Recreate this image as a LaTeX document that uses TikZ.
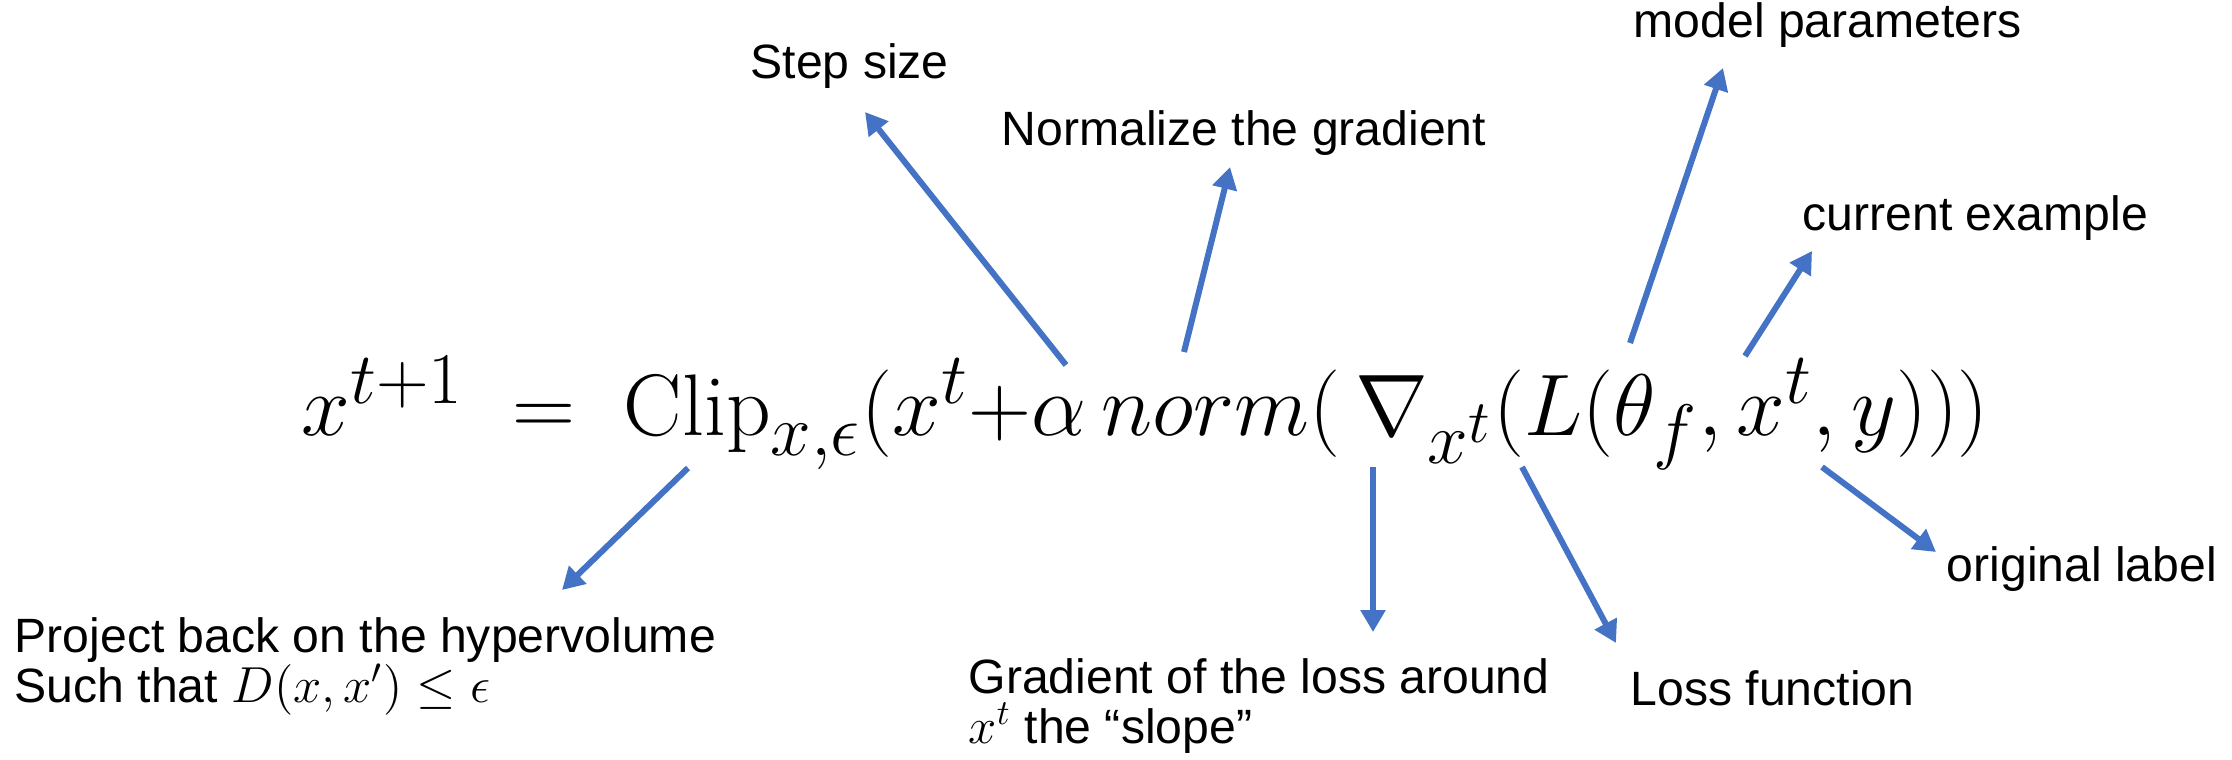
\documentclass[tikz,border=0pt]{standalone}
\usepackage{amsmath,amssymb}
\usepackage{fontspec}
\newfontfamily\labfont{Liberation Sans}
\usetikzlibrary{arrows.meta}
\definecolor{arrblue}{HTML}{4472C4}

\begin{document}
\begin{tikzpicture}[
  eqn/.style={inner sep=0pt, anchor=base west, font=\fontsize{24.88}{30}\selectfont},
  lab/.style={inner sep=0pt, anchor=base west, align=left,
              font=\labfont\fontsize{13.7}{14.2}\selectfont},
  arr/.style={-{Triangle[length=2.2mm,width=2.4mm]}, line width=0.6mm, draw=arrblue}
]
\useasboundingbox (0,0) rectangle (22.32,-7.59);
% the update rule
\node[eqn] (eq) at (3.01,-4.35)
  {$x^{t+1}\;=\;\mathrm{Clip}_{x,\epsilon}(x^t{+}\alpha\,norm(\,\nabla_{x^t}(L(\theta_f,x^t,y)))$};
% labels above
\node[lab] (step) at (7.50,-0.78) {Step size};
\node[lab] (normg) at (10.01,-1.45) {Normalize the gradient};
\node[lab] (param) at (16.33,-0.37) {model parameters};
\node[lab] (curex) at (18.02,-2.30) {current example};
% labels below (base = last line)
\node[lab] (proj) at (0.14,-7.02) {Project back on the hypervolume\\Such that $D(x,x')\leq\epsilon$};
\node[lab] (grad) at (9.68,-7.43) {Gradient of the loss around\\$x^t$ the “slope”};
\node[lab] (loss) at (16.30,-7.05) {Loss function};
\node[lab] (orig) at (19.46,-5.81) {original label};
% arrow ends
\coordinate (stepA) at (10.66,-3.65); \coordinate (stepB) at (8.65,-1.12);
\coordinate (normA) at (11.84,-3.52); \coordinate (normB) at (12.30,-1.67);
\coordinate (parA) at (16.30,-3.43);  \coordinate (parB) at (17.23,-0.68);
\coordinate (curA) at (17.45,-3.56);  \coordinate (curB) at (18.12,-2.51);
\coordinate (projA) at (6.88,-4.68);  \coordinate (projB) at (5.62,-5.90);
\coordinate (gradA) at (13.73,-4.67); \coordinate (gradB) at (13.73,-6.32);
\coordinate (lossA) at (15.22,-4.67); \coordinate (lossB) at (16.16,-6.43);
\coordinate (origA) at (18.22,-4.67); \coordinate (origB) at (19.36,-5.52);
\draw[arr] (stepA) -- (stepB);
\draw[arr] (normA) -- (normB);
\draw[arr] (parA) -- (parB);
\draw[arr] (curA) -- (curB);
\draw[arr] (projA) -- (projB);
\draw[arr] (gradA) -- (gradB);
\draw[arr] (lossA) -- (lossB);
\draw[arr] (origA) -- (origB);
\end{tikzpicture}
\end{document}
